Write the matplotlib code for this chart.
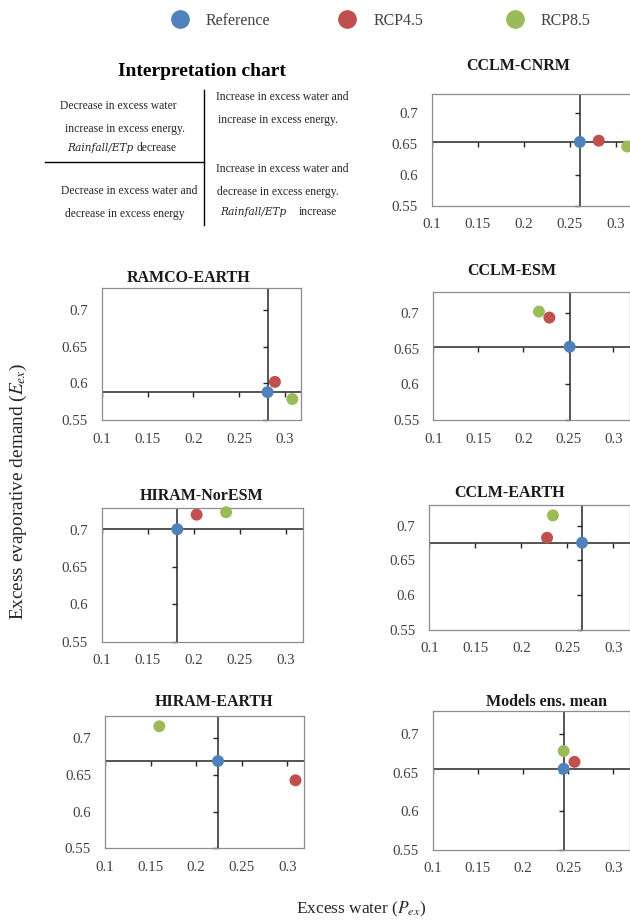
import matplotlib
matplotlib.use("Agg")
import matplotlib.pyplot as plt
from matplotlib.lines import Line2D

plt.rcParams['font.family'] = ['Liberation Serif', 'DejaVu Serif']
plt.rcParams['mathtext.fontset'] = 'stix'

# ---------------- data ----------------
models = ['CCLM-CNRM', 'RAMCO-EARTH', 'CCLM-ESM', 'HIRAM-NorESM',
          'CCLM-EARTH', 'HIRAM-EARTH', 'Models ens. mean']
ref_x = [0.261, 0.281, 0.2515, 0.182, 0.266, 0.224, 0.245]
ref_y = [0.653, 0.588, 0.653, 0.701, 0.6755, 0.669, 0.655]
rcp45_x = [0.2816, 0.289, 0.229, 0.203, 0.228, 0.309, 0.257]
rcp45_y = [0.655, 0.602, 0.694, 0.7206, 0.6827, 0.6427, 0.664]
rcp85_x = [0.3125, 0.308, 0.2174, 0.235, 0.2344, 0.1596, 0.245]
rcp85_y = [0.6457, 0.5786, 0.7024, 0.7238, 0.7148, 0.7164, 0.678]
series_names = ['Reference', 'RCP4.5', 'RCP8.5']
x_ticks = [0.1, 0.15, 0.2, 0.25, 0.3]
x_ticklabels = ['0.1', '0.15', '0.2', '0.25', '0.3']
y_ticks = [0.55, 0.6, 0.65, 0.7]
y_ticklabels = ['0.55', '0.6', '0.65', '0.7']
XLIM = (0.1, 0.318)
YLIM = (0.55, 0.73)

# ---------------- style ----------------
colors = ['#4F81BD', '#C0504D', '#9BBB59']
W, H = 630, 924
TXT = '#404040'

fig = plt.figure(figsize=(W / 100, H / 100), dpi=100)

def fx(x):
    return x / W

def fy(y):
    return 1 - y / H

# pixel geometry of each panel: x of 0.1, x of 0.3, y of 0.55, y of 0.7, title x, title y
layout = [
    (431.7, 615.7, 206.0, 112.7, 518, 66),
    (101.7, 285.0, 420.0, 310.0, 189, 278),
    (433.3, 613.3, 420.0, 313.3, 512, 271),
    (101.7, 286.0, 641.7, 530.0, 202, 496),
    (429.3, 613.3, 630.0, 525.7, 510, 493),
    (105.0, 287.3, 848.3, 738.3, 214, 702),
    (432.7, 613.3, 850.0, 734.0, 547, 702),
]

for i, name in enumerate(models):
    x0, x3, y55, y70, tx, ty = layout[i]
    pxu = (x3 - x0) / 0.2
    pyu = (y55 - y70) / 0.15
    left = fx(x0)
    width = pxu * (XLIM[1] - XLIM[0]) / W
    bottom = fy(y55)
    height = pyu * (YLIM[1] - YLIM[0]) / H
    ax = fig.add_axes([left, bottom, width, height])
    ax.set_xlim(*XLIM)
    ax.set_ylim(*YLIM)
    for sp in ax.spines.values():
        sp.set_color('#8c8c8c')
        sp.set_linewidth(0.9)
    ax.set_xticks(x_ticks)
    ax.set_xticklabels(x_ticklabels)
    ax.set_yticks(y_ticks)
    ax.set_yticklabels(y_ticklabels)
    ax.tick_params(axis='both', length=0, labelsize=10.7, labelcolor=TXT)
    ax.tick_params(axis='x', pad=9)
    ax.tick_params(axis='y', pad=10)
    # crossing axes at the reference point
    ax.axhline(ref_y[i], color='#262626', lw=1.1, zorder=2)
    ax.axvline(ref_x[i], color='#262626', lw=1.1, zorder=2)
    ax.plot(x_ticks, [ref_y[i]] * len(x_ticks), linestyle='none', marker=3,
            markersize=3.5, markeredgewidth=1.0, color='#262626', zorder=2)
    ax.plot([ref_x[i]] * len(y_ticks), y_ticks, linestyle='none', marker=0,
            markersize=3.5, markeredgewidth=1.0, color='#262626', zorder=2,
            clip_on=False)
    xs = [ref_x[i], rcp45_x[i], rcp85_x[i]]
    ys = [ref_y[i], rcp45_y[i], rcp85_y[i]]
    for k in range(3):
        ax.scatter([xs[k]], [ys[k]], s=74, color=colors[k], edgecolors='none',
                   zorder=5, clip_on=False)
    fig.text(fx(tx), fy(ty), name, ha='center', va='center', fontsize=11.5,
             fontweight='bold', color='#1a1a1a')

# ---------------- legend ----------------
leg_pos = [(170.0, 21), (337.5, 21), (505.0, 21)]
for k in range(3):
    h = Line2D([], [], linestyle='none', marker='o', markersize=13.5,
               markerfacecolor=colors[k], markeredgecolor='none')
    lx, ly = leg_pos[k]
    fig.legend([h], [series_names[k]], loc='center left',
               bbox_to_anchor=(fx(lx), fy(ly)), frameon=False,
               fontsize=11.5, handlelength=1.2, handletextpad=1.05,
               borderpad=0, borderaxespad=0, labelcolor=TXT)

# ---------------- interpretation chart ----------------
fig.text(fx(201.7), fy(71.7), 'Interpretation chart', ha='center', va='center',
         fontsize=14, fontweight='bold', color='#000000')
fig.add_artist(Line2D([fx(204), fx(204)], [fy(90), fy(225)],
                      transform=fig.transFigure, color='#000000', lw=1.0))
fig.add_artist(Line2D([fx(45), fx(204)], [fy(162), fy(162)],
                      transform=fig.transFigure, color='#000000', lw=1.0))
interp = [
    (118.3, 106.0, 'Decrease in excess water'),
    (124.7, 129.3, 'increase in excess energy.'),
    (282.3, 96.7, 'Increase in excess water and'),
    (278.3, 120.0, 'increase in excess energy.'),
    (129.3, 190.7, 'Decrease in excess water and'),
    (125.0, 214.0, 'decrease in excess energy'),
    (282.3, 169.0, 'Increase in excess water and'),
    (278.3, 191.7, 'decrease in excess energy.'),
]
for x, y, s in interp:
    fig.text(fx(x), fy(y), s, ha='center', va='center', fontsize=8.4,
             color='#262626')
# ratio lines: italic part + plain word
ratio_lines = [(133.0, 137.0, 148.3, 'decrease'), (286.0, 299.0, 212.3, 'increase')]
for xe, xs_, y, word in ratio_lines:
    fig.text(fx(xe), fy(y), 'Rainfall/ETp', ha='right', va='center',
             fontsize=7.6, family='DejaVu Serif', style='italic', color='#262626')
    fig.text(fx(xs_), fy(y), word, ha='left', va='center', fontsize=8.4,
             color='#262626')

# ---------------- axis labels ----------------
fig.text(fx(18.3), fy(491), r'Excess evaporative demand ($\mathit{E}_{\mathit{ex}}$)',
         rotation=90, ha='center', va='center', fontsize=13.9, color='#262626')
fig.text(fx(361.7), fy(909), r'Excess water ($\mathit{P}_{\mathit{ex}}$)',
         ha='center', va='center', fontsize=12.5, color='#262626')

fig.savefig('out.png', dpi=100)
